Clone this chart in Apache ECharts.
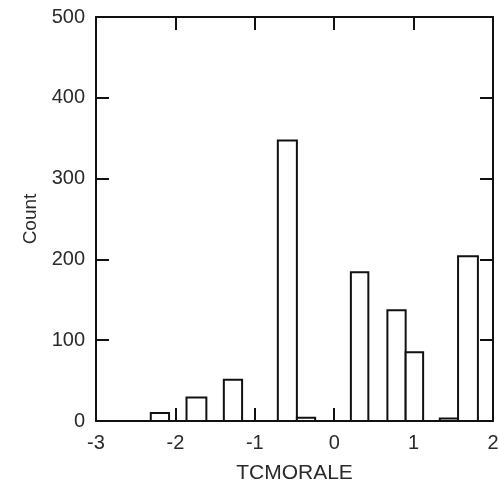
<!DOCTYPE html>
<html>
<head>
<meta charset="utf-8">
<script src="https://cdn.jsdelivr.net/npm/echarts@6/dist/echarts.min.js"></script>
<style>
  html, body { margin: 0; padding: 0; background: #fff; }
  #chart { width: 499px; height: 486px; }
</style>
</head>
<body>
<div id="chart"></div>
<script>
// histogram bins of TCMORALE (only non-empty bins drawn)
const binLo = [-2.31, -1.86, -1.39, -0.71, -0.47, 0.21, 0.67, 0.90, 1.33, 1.56];
const binHi = [-2.08, -1.61, -1.16, -0.47, -0.24, 0.43, 0.90, 1.12, 1.56, 1.81];
const counts = [10, 29, 51, 347, 4, 184, 137, 85, 3, 204];

const xTicks = [-3, -2, -1, 0, 1, 2];
const yTicks = [0, 100, 200, 300, 400, 500];

const ink = '#111';
const labelFont = { color: '#2a2a2a', fontFamily: 'Liberation Sans, Arial, sans-serif', fontSize: 20 };

const chart = echarts.init(document.getElementById('chart'));

const tick = { show: true, inside: true, length: 13, lineStyle: { color: ink, width: 2 } };
const line = { show: true, onZero: false, lineStyle: { color: ink, width: 2 } };

chart.setOption({
    animation: false,
    backgroundColor: '#fff',
    grid: { left: 96, top: 17, right: 6, bottom: 65, outerBoundsMode: 'none', containLabel: false },
    xAxis: [
        {
            type: 'value', min: xTicks[0], max: xTicks[xTicks.length - 1], interval: 1,
            position: 'bottom',
            axisLine: line, axisTick: tick, splitLine: { show: false },
            axisLabel: Object.assign({ margin: 12 }, labelFont),
            name: 'TCMORALE', nameLocation: 'middle', nameGap: 42,
            nameTextStyle: Object.assign({}, labelFont, { fontSize: 21 })
        },
        {
            type: 'value', min: xTicks[0], max: xTicks[xTicks.length - 1], interval: 1,
            position: 'top',
            axisLine: line, axisTick: tick, splitLine: { show: false },
            axisLabel: { show: false }
        }
    ],
    yAxis: [
        {
            type: 'value', min: yTicks[0], max: yTicks[yTicks.length - 1], interval: 100,
            position: 'left',
            axisLine: line, axisTick: tick, splitLine: { show: false },
            axisLabel: Object.assign({ margin: 11 }, labelFont),
            name: 'Count', nameLocation: 'middle', nameGap: 52,
            nameTextStyle: Object.assign({}, labelFont, { fontSize: 19 })
        },
        {
            type: 'value', min: yTicks[0], max: yTicks[yTicks.length - 1], interval: 100,
            position: 'right',
            axisLine: line, axisTick: tick, splitLine: { show: false },
            axisLabel: { show: false }
        }
    ],
    series: [{
        type: 'custom',
        xAxisIndex: 0,
        yAxisIndex: 0,
        data: counts.map((c, i) => [binLo[i], binHi[i], c]),
        renderItem: function (params, api) {
            const p0 = api.coord([api.value(0), 0]);
            const p1 = api.coord([api.value(1), api.value(2)]);
            return {
                type: 'rect',
                shape: { x: p0[0], y: p1[1], width: p1[0] - p0[0], height: p0[1] - p1[1] },
                style: { fill: '#fff', stroke: ink, lineWidth: 2 }
            };
        }
    }]
});
</script>
</body>
</html>
